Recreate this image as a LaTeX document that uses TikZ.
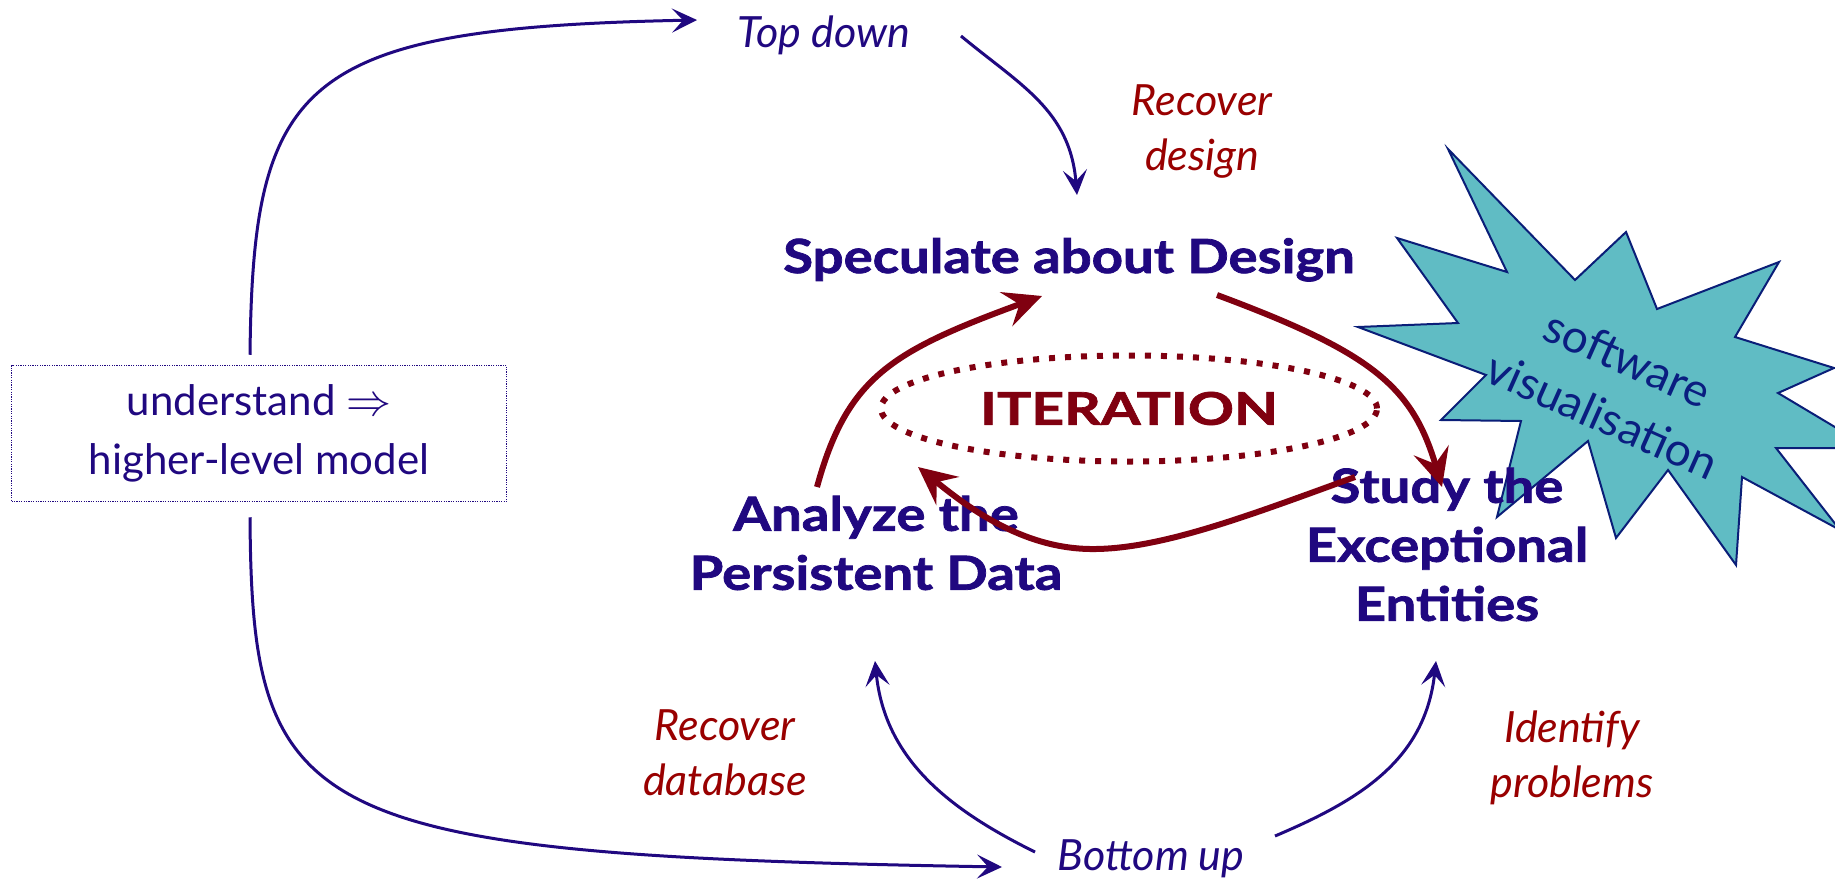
\documentclass[tikz,border=0pt]{standalone}
\usepackage{fontspec}
\setmainfont{Lato}
\newfontfamily\heavy{Lato}[BoldFeatures={FakeBold=1.6, FakeStretch=1.16}]
\newfontfamily\heavyiter{Lato}[BoldFeatures={FakeBold=1.6, FakeStretch=1.27}]
\usetikzlibrary{arrows.meta,shapes.geometric}
\definecolor{navy}{RGB}{32,8,128}
\definecolor{darkred}{RGB}{128,0,16}
\definecolor{labelred}{RGB}{153,0,0}
\definecolor{starfill}{RGB}{96,188,196}
\definecolor{starline}{RGB}{10,30,120}
\definecolor{startext}{RGB}{10,30,128}
\tikzset{
  bluearrow/.style={draw=navy, line width=3pt, -{Stealth[length=25pt,width=24pt,inset=11pt]}},
  redarrow/.style={draw=darkred, line width=6pt, -{Stealth[length=38pt,width=36pt,inset=14pt]}},
  boldlabel/.style={text=navy, font=\heavy\fontsize{47}{59}\selectfont\bfseries, align=center, inner sep=0pt},
  italabel/.style={text=labelred, font=\fontsize{43}{55}\selectfont\itshape, align=center, inner sep=0pt},
  flowlabel/.style={text=navy, font=\fontsize{43}{55}\selectfont\itshape, inner sep=0pt},
}
\begin{document}
\begin{tikzpicture}[x=1pt,y=-1pt]
\useasboundingbox (0,0) rectangle (1835,883);
\fill[white] (0,0) rectangle (1835,883);
% starburst
\begin{scope}
\clip (0,0) rectangle (1835,883);
\filldraw[fill=starfill, draw=starline, line width=2pt, line join=miter]
  (1588,441) -- (1497,517) -- (1521,421) -- (1441,420) -- (1486,375) -- (1358,327)
  -- (1458,323) -- (1397,238) -- (1507,272) -- (1448,149) -- (1575,280) -- (1626,232)
  -- (1657,309) -- (1779,262) -- (1735,337) -- (1834,368) -- (1778,393) -- (1870,448)
  -- (1776,448) -- (1840,530) -- (1742,477) -- (1736,565) -- (1668,470) -- (1616,538) -- cycle;
\end{scope}
\node[text=startext, font=\fontsize{46}{62}\selectfont, align=center, rotate=-24, inner sep=0pt] (soft) at (1615,387) {software\\visualisation};
% box
\node[draw=navy, dash pattern=on 1.2pt off 1.2pt, line width=1.5pt, minimum width=495pt, minimum height=136pt, text=navy, font=\fontsize{42}{59}\selectfont, align=center, inner sep=0pt] (box) at (259,433.5) {understand \resizebox{45pt}{!}{$\Rightarrow$}\\higher-level model};
% main texts
\node[boldlabel, anchor=base] (spec) at (1069,273) {Speculate about Design};
\node[boldlabel] (analyze) at (876,543) {Analyze the\\Persistent Data};
\node[boldlabel] (study) at (1447,544.5) {Study the\\Exceptional\\Entities};
\node[ellipse, draw=darkred, line width=6pt, dash pattern=on 6pt off 10pt, minimum width=496pt, minimum height=106pt, text=darkred, font=\heavyiter\fontsize{45}{50}\selectfont\bfseries, inner sep=0pt] (iter) at (1129,408.5) {ITERATION};
\node[italabel] (recdesign) at (1202,132) {Recover\\design};
\node[italabel] (recdb) at (725,753) {Recover\\database};
\node[italabel] (ident) at (1572,758) {Identify\\problems};
\node[flowlabel, anchor=base] (topdown) at (824,48) {Top down};
\node[flowlabel, anchor=base] (bottomup) at (1151,870) {Bottom up};
% blue connectors
\draw[bluearrow] ([xshift=-9pt,yshift=10pt]box.north) .. controls (253,80) and (300,28) .. ([xshift=-127pt,yshift=28pt]topdown.base);
\draw[bluearrow] ([xshift=137pt,yshift=12pt]topdown.base) .. controls (1020,85) and (1070,110) .. ([xshift=8pt,yshift=78pt]spec.base);
\draw[bluearrow] ([xshift=-9pt,yshift=-15pt]box.south) .. controls (252,820) and (300,855) .. ([xshift=-149pt,yshift=3pt]bottomup.base);
\draw[bluearrow] ([xshift=-116pt,yshift=18pt]bottomup.base) .. controls (950,810) and (885,760) .. ([xshift=-1pt,yshift=-118pt]analyze.center);
\draw[bluearrow] ([xshift=124pt,yshift=34pt]bottomup.base) .. controls (1360,800) and (1425,760) .. ([xshift=-11pt,yshift=-116.5pt]study.center);
% red connectors
\draw[redarrow] ([xshift=-59pt,yshift=56pt]analyze.center) .. controls (847,377) and (892,351) .. ([xshift=-27pt,yshift=-23pt]spec.base);
\draw[redarrow] ([xshift=148pt,yshift=-22pt]spec.base) .. controls (1370,352) and (1412,385) .. ([xshift=-5pt,yshift=57.5pt]study.center);
\draw[redarrow] ([xshift=-92pt,yshift=67.5pt]study.center) .. controls (1250,515) and (1160,550) .. (1090,549) .. controls (1020,548) and (965,505) .. ([xshift=42pt,yshift=76pt]analyze.center);
\end{tikzpicture}
\end{document}
